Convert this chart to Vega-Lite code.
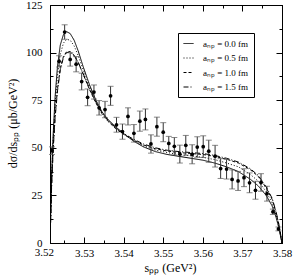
{
  "$schema": "https://vega.github.io/schema/vega-lite/v6.json",
  "width": 232,
  "height": 238,
  "autosize": {"type": "none"},
  "padding": {"left": 50, "top": 5, "right": 12, "bottom": 36},
  "background": "white",
  "config": {
    "font": "Liberation Serif",
    "view": {"stroke": "black", "strokeWidth": 1},
    "axis": {"domainColor": "black", "tickColor": "black", "labelColor": "black", "titleColor": "black", "labelFont": "Liberation Serif", "titleFont": "Liberation Serif", "labelFontSize": 11, "titleFontSize": 12, "titleFontWeight": "normal", "grid": false}
  },
  "datasets": {
    "curves": [
      {"s":3.5214,"v":0,"a":"aₙₚ = 0.0 fm"},{"s":3.5218,"v":35,"a":"aₙₚ = 0.0 fm"},{"s":3.5222,"v":57,"a":"aₙₚ = 0.0 fm"},{"s":3.5227,"v":77,"a":"aₙₚ = 0.0 fm"},{"s":3.5233,"v":93,"a":"aₙₚ = 0.0 fm"},{"s":3.524,"v":104,"a":"aₙₚ = 0.0 fm"},{"s":3.5248,"v":109.5,"a":"aₙₚ = 0.0 fm"},{"s":3.5256,"v":111,"a":"aₙₚ = 0.0 fm"},{"s":3.5265,"v":110,"a":"aₙₚ = 0.0 fm"},{"s":3.5275,"v":106.5,"a":"aₙₚ = 0.0 fm"},{"s":3.5285,"v":101,"a":"aₙₚ = 0.0 fm"},{"s":3.5298,"v":92.5,"a":"aₙₚ = 0.0 fm"},{"s":3.5314,"v":83,"a":"aₙₚ = 0.0 fm"},{"s":3.533,"v":75,"a":"aₙₚ = 0.0 fm"},{"s":3.5345,"v":69,"a":"aₙₚ = 0.0 fm"},{"s":3.536,"v":65,"a":"aₙₚ = 0.0 fm"},{"s":3.538,"v":61,"a":"aₙₚ = 0.0 fm"},{"s":3.54,"v":57.5,"a":"aₙₚ = 0.0 fm"},{"s":3.5425,"v":53.5,"a":"aₙₚ = 0.0 fm"},{"s":3.545,"v":50.5,"a":"aₙₚ = 0.0 fm"},{"s":3.548,"v":48,"a":"aₙₚ = 0.0 fm"},{"s":3.551,"v":46.5,"a":"aₙₚ = 0.0 fm"},{"s":3.554,"v":45.5,"a":"aₙₚ = 0.0 fm"},{"s":3.557,"v":44.5,"a":"aₙₚ = 0.0 fm"},{"s":3.56,"v":43.5,"a":"aₙₚ = 0.0 fm"},{"s":3.563,"v":42,"a":"aₙₚ = 0.0 fm"},{"s":3.566,"v":40,"a":"aₙₚ = 0.0 fm"},{"s":3.569,"v":37.5,"a":"aₙₚ = 0.0 fm"},{"s":3.572,"v":33.5,"a":"aₙₚ = 0.0 fm"},{"s":3.574,"v":30,"a":"aₙₚ = 0.0 fm"},{"s":3.576,"v":25,"a":"aₙₚ = 0.0 fm"},{"s":3.5775,"v":19.5,"a":"aₙₚ = 0.0 fm"},{"s":3.5785,"v":13.5,"a":"aₙₚ = 0.0 fm"},{"s":3.5792,"v":8,"a":"aₙₚ = 0.0 fm"},{"s":3.5797,"v":3,"a":"aₙₚ = 0.0 fm"},{"s":3.58,"v":0,"a":"aₙₚ = 0.0 fm"},
      {"s":3.5214,"v":0,"a":"aₙₚ = 0.5 fm"},{"s":3.5218,"v":33,"a":"aₙₚ = 0.5 fm"},{"s":3.5222,"v":54,"a":"aₙₚ = 0.5 fm"},{"s":3.5227,"v":73,"a":"aₙₚ = 0.5 fm"},{"s":3.5233,"v":88,"a":"aₙₚ = 0.5 fm"},{"s":3.524,"v":99,"a":"aₙₚ = 0.5 fm"},{"s":3.5248,"v":105,"a":"aₙₚ = 0.5 fm"},{"s":3.5256,"v":107,"a":"aₙₚ = 0.5 fm"},{"s":3.5265,"v":106.5,"a":"aₙₚ = 0.5 fm"},{"s":3.5275,"v":103.5,"a":"aₙₚ = 0.5 fm"},{"s":3.5285,"v":98.5,"a":"aₙₚ = 0.5 fm"},{"s":3.5298,"v":91,"a":"aₙₚ = 0.5 fm"},{"s":3.5314,"v":82,"a":"aₙₚ = 0.5 fm"},{"s":3.533,"v":74.5,"a":"aₙₚ = 0.5 fm"},{"s":3.5345,"v":68.5,"a":"aₙₚ = 0.5 fm"},{"s":3.536,"v":64.5,"a":"aₙₚ = 0.5 fm"},{"s":3.538,"v":60.5,"a":"aₙₚ = 0.5 fm"},{"s":3.54,"v":57.5,"a":"aₙₚ = 0.5 fm"},{"s":3.5425,"v":54,"a":"aₙₚ = 0.5 fm"},{"s":3.545,"v":51,"a":"aₙₚ = 0.5 fm"},{"s":3.548,"v":48.8,"a":"aₙₚ = 0.5 fm"},{"s":3.551,"v":47.5,"a":"aₙₚ = 0.5 fm"},{"s":3.554,"v":46.5,"a":"aₙₚ = 0.5 fm"},{"s":3.557,"v":45.8,"a":"aₙₚ = 0.5 fm"},{"s":3.56,"v":45,"a":"aₙₚ = 0.5 fm"},{"s":3.563,"v":43.8,"a":"aₙₚ = 0.5 fm"},{"s":3.566,"v":42,"a":"aₙₚ = 0.5 fm"},{"s":3.569,"v":40,"a":"aₙₚ = 0.5 fm"},{"s":3.572,"v":36,"a":"aₙₚ = 0.5 fm"},{"s":3.574,"v":32.5,"a":"aₙₚ = 0.5 fm"},{"s":3.576,"v":27,"a":"aₙₚ = 0.5 fm"},{"s":3.5775,"v":21,"a":"aₙₚ = 0.5 fm"},{"s":3.5785,"v":14.5,"a":"aₙₚ = 0.5 fm"},{"s":3.5792,"v":8.5,"a":"aₙₚ = 0.5 fm"},{"s":3.5797,"v":3,"a":"aₙₚ = 0.5 fm"},{"s":3.58,"v":0,"a":"aₙₚ = 0.5 fm"},
      {"s":3.5214,"v":0,"a":"aₙₚ = 1.0 fm"},{"s":3.5218,"v":30,"a":"aₙₚ = 1.0 fm"},{"s":3.5222,"v":50,"a":"aₙₚ = 1.0 fm"},{"s":3.5227,"v":67,"a":"aₙₚ = 1.0 fm"},{"s":3.5233,"v":81,"a":"aₙₚ = 1.0 fm"},{"s":3.524,"v":92,"a":"aₙₚ = 1.0 fm"},{"s":3.5248,"v":98,"a":"aₙₚ = 1.0 fm"},{"s":3.5256,"v":100.5,"a":"aₙₚ = 1.0 fm"},{"s":3.5265,"v":100.5,"a":"aₙₚ = 1.0 fm"},{"s":3.5275,"v":98.5,"a":"aₙₚ = 1.0 fm"},{"s":3.5285,"v":95,"a":"aₙₚ = 1.0 fm"},{"s":3.5298,"v":88.5,"a":"aₙₚ = 1.0 fm"},{"s":3.5314,"v":80.5,"a":"aₙₚ = 1.0 fm"},{"s":3.533,"v":73.5,"a":"aₙₚ = 1.0 fm"},{"s":3.5345,"v":68,"a":"aₙₚ = 1.0 fm"},{"s":3.536,"v":64,"a":"aₙₚ = 1.0 fm"},{"s":3.538,"v":60,"a":"aₙₚ = 1.0 fm"},{"s":3.54,"v":57,"a":"aₙₚ = 1.0 fm"},{"s":3.5425,"v":54,"a":"aₙₚ = 1.0 fm"},{"s":3.545,"v":51.5,"a":"aₙₚ = 1.0 fm"},{"s":3.548,"v":49.5,"a":"aₙₚ = 1.0 fm"},{"s":3.551,"v":48.3,"a":"aₙₚ = 1.0 fm"},{"s":3.554,"v":47.5,"a":"aₙₚ = 1.0 fm"},{"s":3.557,"v":47,"a":"aₙₚ = 1.0 fm"},{"s":3.56,"v":46.5,"a":"aₙₚ = 1.0 fm"},{"s":3.563,"v":45.5,"a":"aₙₚ = 1.0 fm"},{"s":3.566,"v":44,"a":"aₙₚ = 1.0 fm"},{"s":3.569,"v":42,"a":"aₙₚ = 1.0 fm"},{"s":3.572,"v":38.5,"a":"aₙₚ = 1.0 fm"},{"s":3.574,"v":35,"a":"aₙₚ = 1.0 fm"},{"s":3.576,"v":29,"a":"aₙₚ = 1.0 fm"},{"s":3.5775,"v":23,"a":"aₙₚ = 1.0 fm"},{"s":3.5785,"v":16,"a":"aₙₚ = 1.0 fm"},{"s":3.5792,"v":9.5,"a":"aₙₚ = 1.0 fm"},{"s":3.5797,"v":3.5,"a":"aₙₚ = 1.0 fm"},{"s":3.58,"v":0,"a":"aₙₚ = 1.0 fm"},
      {"s":3.5214,"v":0,"a":"aₙₚ = 1.5 fm"},{"s":3.5218,"v":29,"a":"aₙₚ = 1.5 fm"},{"s":3.5222,"v":49,"a":"aₙₚ = 1.5 fm"},{"s":3.5227,"v":66,"a":"aₙₚ = 1.5 fm"},{"s":3.5233,"v":80,"a":"aₙₚ = 1.5 fm"},{"s":3.524,"v":91,"a":"aₙₚ = 1.5 fm"},{"s":3.5248,"v":97.5,"a":"aₙₚ = 1.5 fm"},{"s":3.5256,"v":100,"a":"aₙₚ = 1.5 fm"},{"s":3.5265,"v":100.3,"a":"aₙₚ = 1.5 fm"},{"s":3.5275,"v":98.5,"a":"aₙₚ = 1.5 fm"},{"s":3.5285,"v":95,"a":"aₙₚ = 1.5 fm"},{"s":3.5298,"v":88.8,"a":"aₙₚ = 1.5 fm"},{"s":3.5314,"v":81,"a":"aₙₚ = 1.5 fm"},{"s":3.533,"v":74,"a":"aₙₚ = 1.5 fm"},{"s":3.5345,"v":68.5,"a":"aₙₚ = 1.5 fm"},{"s":3.536,"v":64.5,"a":"aₙₚ = 1.5 fm"},{"s":3.538,"v":60.5,"a":"aₙₚ = 1.5 fm"},{"s":3.54,"v":57.5,"a":"aₙₚ = 1.5 fm"},{"s":3.5425,"v":54.5,"a":"aₙₚ = 1.5 fm"},{"s":3.545,"v":52,"a":"aₙₚ = 1.5 fm"},{"s":3.548,"v":50,"a":"aₙₚ = 1.5 fm"},{"s":3.551,"v":48.7,"a":"aₙₚ = 1.5 fm"},{"s":3.554,"v":48,"a":"aₙₚ = 1.5 fm"},{"s":3.557,"v":47.5,"a":"aₙₚ = 1.5 fm"},{"s":3.56,"v":47,"a":"aₙₚ = 1.5 fm"},{"s":3.563,"v":46,"a":"aₙₚ = 1.5 fm"},{"s":3.566,"v":44.5,"a":"aₙₚ = 1.5 fm"},{"s":3.569,"v":42.5,"a":"aₙₚ = 1.5 fm"},{"s":3.572,"v":39,"a":"aₙₚ = 1.5 fm"},{"s":3.574,"v":35.5,"a":"aₙₚ = 1.5 fm"},{"s":3.576,"v":29.5,"a":"aₙₚ = 1.5 fm"},{"s":3.5775,"v":23.5,"a":"aₙₚ = 1.5 fm"},{"s":3.5785,"v":16.5,"a":"aₙₚ = 1.5 fm"},{"s":3.5792,"v":10,"a":"aₙₚ = 1.5 fm"},{"s":3.5797,"v":4,"a":"aₙₚ = 1.5 fm"},{"s":3.58,"v":0,"a":"aₙₚ = 1.5 fm"}
    ],
    "points": [
      {"s":3.5219,"y":48.5,"lo":46.5,"hi":50.5},
      {"s":3.5237,"y":95.4,"lo":92.4,"hi":98.4},
      {"s":3.5251,"y":110.8,"lo":107,"hi":114.6},
      {"s":3.5265,"y":96.4,"lo":92.9,"hi":99.9},
      {"s":3.528,"y":93.9,"lo":89.9,"hi":97.9},
      {"s":3.5294,"y":84.8,"lo":80.4,"hi":89.2},
      {"s":3.5309,"y":76.5,"lo":72.1,"hi":80.9},
      {"s":3.5325,"y":79.3,"lo":75.6,"hi":83},
      {"s":3.5338,"y":71,"lo":67.2,"hi":74.8},
      {"s":3.5353,"y":70.1,"lo":65.8,"hi":74.4},
      {"s":3.5367,"y":77.3,"lo":72.3,"hi":82.3},
      {"s":3.5382,"y":62.1,"lo":58.2,"hi":66},
      {"s":3.5397,"y":58.5,"lo":54.5,"hi":62.5},
      {"s":3.5411,"y":66.5,"lo":62,"hi":71},
      {"s":3.5426,"y":57.6,"lo":53,"hi":62.2},
      {"s":3.5441,"y":64,"lo":58.7,"hi":69.3},
      {"s":3.5455,"y":64.9,"lo":59.4,"hi":70.4},
      {"s":3.5469,"y":52,"lo":47.2,"hi":56.8},
      {"s":3.5484,"y":61.1,"lo":56.1,"hi":66.1},
      {"s":3.55,"y":58.2,"lo":53.2,"hi":63.2},
      {"s":3.5514,"y":52.3,"lo":48.6,"hi":56},
      {"s":3.5528,"y":50.8,"lo":46.2,"hi":55.4},
      {"s":3.5542,"y":46.7,"lo":42,"hi":51.4},
      {"s":3.5557,"y":51.3,"lo":46.1,"hi":56.5},
      {"s":3.5573,"y":46.6,"lo":41.6,"hi":51.6},
      {"s":3.5586,"y":50.4,"lo":45,"hi":55.8},
      {"s":3.5601,"y":50.6,"lo":44.9,"hi":56.3},
      {"s":3.5615,"y":48.2,"lo":42.4,"hi":54},
      {"s":3.5631,"y":45.6,"lo":39.9,"hi":51.3},
      {"s":3.5645,"y":39.1,"lo":33.9,"hi":44.3},
      {"s":3.566,"y":38.8,"lo":33.6,"hi":44},
      {"s":3.5674,"y":33.4,"lo":28.4,"hi":38.4},
      {"s":3.5689,"y":32.6,"lo":27.6,"hi":37.6},
      {"s":3.5704,"y":34.3,"lo":29.6,"hi":39},
      {"s":3.5718,"y":31.6,"lo":26.4,"hi":36.8},
      {"s":3.5733,"y":27.7,"lo":23,"hi":32.4},
      {"s":3.5747,"y":31.8,"lo":27.2,"hi":36.4},
      {"s":3.5762,"y":25.9,"lo":22,"hi":29.8},
      {"s":3.5777,"y":16.4,"lo":15,"hi":17.8},
      {"s":3.5791,"y":7.4,"lo":6.4,"hi":8.4}
    ],
    "edgeLabel": [{"s": 3.52, "v": 0, "t": "3.52"}]
  },
  "resolve": {"axis": {"x": "independent", "y": "independent"}},
  "layer": [
    {
      "data": {"name": "curves"},
      "mark": {"type": "line", "strokeWidth": 1, "color": "black", "clip": true},
      "encoding": {
        "x": {"field": "s", "type": "quantitative", "scale": {"domain": [3.5214, 3.58], "nice": false, "zero": false},
          "axis": {"orient": "bottom", "values": [3.525,3.53,3.535,3.54,3.545,3.55,3.555,3.56,3.565,3.57,3.575,3.58],
            "labelExpr": "abs(datum.value*100 - round(datum.value*100)) < 0.01 ? format(datum.value, '.2f') : ''",
            "tickSize": {"condition": {"test": "abs(datum.value*100 - round(datum.value*100)) < 0.01", "value": -6}, "value": -3},
            "labelPadding": 10, "labelFlush": false, "labelOverlap": false,
            "title": "sₚₚ   (GeV²)", "titleY": 19, "titleX": 120}},
        "y": {"field": "v", "type": "quantitative", "scale": {"domain": [0, 125], "nice": false},
          "axis": {"orient": "left", "values": [0,12.5,25,37.5,50,62.5,75,87.5,100,112.5,125],
            "labelExpr": "datum.value % 25 == 0 ? datum.value : ''",
            "tickSize": {"condition": {"test": "datum.value % 25 == 0", "value": -6}, "value": -3},
            "labelPadding": 14, "labelFlush": false, "labelOverlap": false,
            "title": "dσ/dsₚₚ    (μb/GeV²)", "titleX": -38, "titleY": 118, "titleAngle": -90, "titleBaseline": "middle", "titleAlign": "center"}},
        "strokeDash": {"field": "a", "type": "nominal",
          "scale": {"domain": ["aₙₚ = 0.0 fm","aₙₚ = 0.5 fm","aₙₚ = 1.0 fm","aₙₚ = 1.5 fm"], "range": [[1,0],[1,2],[3,2],[5,2,1,2]]},
          "legend": {"orient": "none", "legendX": 128, "legendY": 28, "title": null, "strokeColor": "black", "fillColor": "white", "padding": 5,
            "symbolType": "stroke", "symbolSize": 100, "symbolStrokeWidth": 1, "symbolStrokeColor": "black",
            "labelFontSize": 9, "labelFont": "Liberation Serif", "rowPadding": 3.5, "labelOffset": 9}}
      }
    },
    {
      "data": {"name": "points"},
      "mark": {"type": "rule", "color": "#333", "strokeWidth": 1},
      "encoding": {
        "x": {"field": "s", "type": "quantitative", "axis": null},
        "y": {"field": "lo", "type": "quantitative", "axis": null},
        "y2": {"field": "hi"}
      }
    },
    {
      "data": {"name": "points"},
      "mark": {"type": "tick", "color": "#555", "size": 6, "thickness": 1, "orient": "horizontal"},
      "encoding": {
        "x": {"field": "s", "type": "quantitative", "axis": null},
        "y": {"field": "lo", "type": "quantitative", "axis": null}
      }
    },
    {
      "data": {"name": "points"},
      "mark": {"type": "tick", "color": "#555", "size": 6, "thickness": 1, "orient": "horizontal"},
      "encoding": {
        "x": {"field": "s", "type": "quantitative", "axis": null},
        "y": {"field": "hi", "type": "quantitative", "axis": null}
      }
    },
    {
      "data": {"name": "edgeLabel"},
      "mark": {"type": "text", "baseline": "top", "align": "center", "dy": 4, "fontSize": 11, "font": "Liberation Serif", "color": "black", "clip": false},
      "encoding": {
        "x": {"field": "s", "type": "quantitative", "axis": null},
        "y": {"field": "v", "type": "quantitative", "axis": null},
        "text": {"field": "t"}
      }
    },
    {
      "data": {"name": "points"},
      "mark": {"type": "circle", "color": "black", "size": 14, "opacity": 1},
      "encoding": {
        "x": {"field": "s", "type": "quantitative",
          "axis": {"orient": "top", "values": [3.525,3.53,3.535,3.54,3.545,3.55,3.555,3.56,3.565,3.57,3.575,3.58], "labels": false, "title": null,
            "tickSize": {"condition": {"test": "abs(datum.value*100 - round(datum.value*100)) < 0.01", "value": -6}, "value": -3}}},
        "y": {"field": "y", "type": "quantitative",
          "axis": {"orient": "right", "values": [0,12.5,25,37.5,50,62.5,75,87.5,100,112.5,125], "labels": false, "title": null,
            "tickSize": {"condition": {"test": "datum.value % 25 == 0", "value": -6}, "value": -3}}}
      }
    }
  ]
}
